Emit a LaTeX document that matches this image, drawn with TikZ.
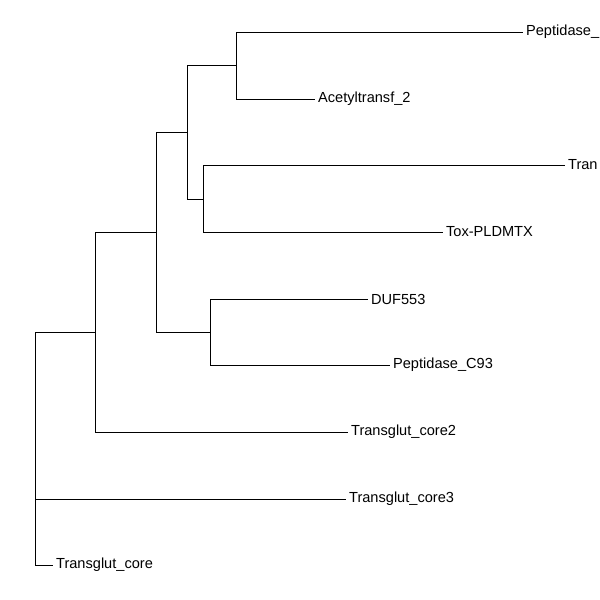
\documentclass[tikz,border=0pt]{standalone}
\usepackage{fontspec}
\setmainfont{Liberation Sans}
\usepackage{tikz}

\begin{document}
\begin{tikzpicture}[x=0.02cm, y=-0.02cm,
  edge/.style={line width=0.45pt},
  tip/.style={anchor=west, inner sep=1.6pt, font=\fontsize{8.3}{10}\selectfont}]
% Moldura
\useasboundingbox (0,0) rectangle (600,600);
\clip (0,0) rectangle (600,600);
% Nos internos
\coordinate (root) at (35,465);
\coordinate (A) at (95,332);
\coordinate (B) at (156,232);
\coordinate (C) at (187,132);
\coordinate (E) at (236,65);
\coordinate (F) at (203,199);
\coordinate (D) at (210,332);
% Folhas
\node[tip] (pep) at (523,32) {Peptidase\_};
\node[tip] (acet) at (315,99) {Acetyltransf\_2};
\node[tip] (tran) at (565,165) {Tran};
\node[tip] (tox) at (443,232) {Tox-PLDMTX};
\node[tip] (duf) at (368,299) {DUF553};
\node[tip] (c93) at (390,365) {Peptidase\_C93};
\node[tip] (tg2) at (348,432) {Transglut\_core2};
\node[tip] (tg3) at (346,499) {Transglut\_core3};
\node[tip] (tg) at (53,565) {Transglut\_core};
% Ramos
\draw[edge] (root) |- (A);
\draw[edge] (root) |- (tg3.west);
\draw[edge] (root) |- (tg.west);
\draw[edge] (A) |- (B);
\draw[edge] (A) |- (tg2.west);
\draw[edge] (B) |- (C);
\draw[edge] (B) |- (D);
\draw[edge] (C) |- (E);
\draw[edge] (C) |- (F);
\draw[edge] (E) |- (pep.west);
\draw[edge] (E) |- (acet.west);
\draw[edge] (F) |- (tran.west);
\draw[edge] (F) |- (tox.west);
\draw[edge] (D) |- (duf.west);
\draw[edge] (D) |- (c93.west);
\end{tikzpicture}
\end{document}
